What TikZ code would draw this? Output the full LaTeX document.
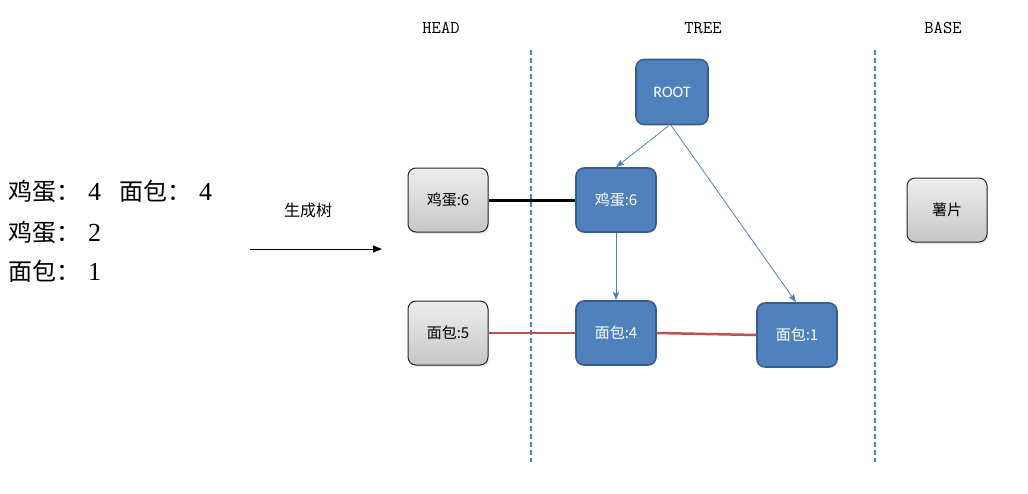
\documentclass[tikz,border=0pt]{standalone}
\usepackage{fontspec}
\setmainfont{Liberation Serif}
\newfontfamily\cjk{Noto Sans CJK SC}
\usetikzlibrary{arrows.meta,shadows}
\definecolor{tblue}{HTML}{4F81BD}
\definecolor{tborder}{HTML}{385D8A}
\definecolor{tred}{HTML}{C0504D}
\definecolor{sepblue}{HTML}{4A7EBB}
\tikzset{
  treebox/.style={draw=tborder,line width=1.6pt,fill=tblue,rounded corners=8pt,minimum width=80pt,minimum height=64pt,text=white,font=\cjk\fontsize{15}{18}\selectfont,inner sep=0pt},
  graybox/.style={draw=black!85,line width=1pt,top color=white!93!black,bottom color=black!22,rounded corners=8pt,minimum width=80pt,minimum height=64pt,text=black,font=\cjk\fontsize{15}{18}\selectfont,inner sep=0pt,drop shadow={shadow xshift=1pt,shadow yshift=-2pt,opacity=0.2}},
  sep/.style={draw=sepblue,line width=1.5pt,dash pattern=on 5pt off 3pt},
  tarrow/.style={draw=tblue,line width=0.8pt,-{Stealth[length=8pt,width=6pt,inset=1pt]}},
  colhead/.style={font=\ttfamily\fontsize{18}{20}\selectfont},
  bigtext/.style={font=\cjk\fontsize{24}{28}\selectfont,anchor=west,inner sep=0pt}
}
\newcommand{\dg}[1]{{\rmfamily\fontsize{26}{28}\selectfont #1}}
\begin{document}
\begin{tikzpicture}[x=1pt,y=-1pt]
\useasboundingbox (0,0) rectangle (1028,493);
\node[colhead] (hhead) at (441,28) {HEAD};
\node[colhead] (htree) at (703,28) {TREE};
\node[colhead] (hbase) at (943,28) {BASE};
\coordinate (s1a) at (531,50); \coordinate (s1b) at (531,462);
\coordinate (s2a) at (875,50); \coordinate (s2b) at (875,462);
\draw[sep] (s1a) -- (s1b);
\draw[sep] (s2a) -- (s2b);
\node[bigtext] (l1) at (8,191) {鸡蛋：\hspace{8pt}\dg{4}\hspace{18pt}面包：\hspace{8pt}\dg{4}};
\node[bigtext] (l2) at (8,232) {鸡蛋：\hspace{8pt}\dg{2}};
\node[bigtext] (l3) at (8,271) {面包：\hspace{8pt}\dg{1}};
\node[font=\cjk\fontsize{16}{18}\selectfont] (gen) at (308,210) {生成树};
\coordinate (aa) at (250,249); \coordinate (ab) at (382,249);
\draw[line width=1pt,-{Triangle[length=9pt,width=7pt]}] (aa) -- (ab);
\node[treebox,minimum width=72pt,minimum height=65pt] (root) at (672,92) {\fontspec{Carlito}\fontsize{16}{18}\selectfont ROOT};
\node[treebox] (tegg) at (616,200) {鸡蛋:6};
\node[treebox] (tbread) at (616,333) {面包:4};
\node[treebox] (tbread1) at (797,335) {面包:1};
\node[graybox] (hegg) at (448,200) {鸡蛋:6};
\node[graybox] (hbread) at (448,333) {面包:5};
\node[graybox] (chips) at (947,210) {薯片};
\draw[line width=3pt,black] (hegg.east) -- (tegg.west);
\draw[line width=2.5pt,tred] (hbread.east) -- (tbread.west);
\draw[line width=2.5pt,tred] (tbread.east) -- (tbread1.west);
\draw[tarrow] (root.south) ++(-4,1) -- (tegg.north);
\draw[tarrow] ([xshift=-1pt]root.south) -- ([xshift=-1pt]tbread1.north);
\draw[tarrow] (tegg.south) -- (tbread.north);
\end{tikzpicture}
\end{document}
